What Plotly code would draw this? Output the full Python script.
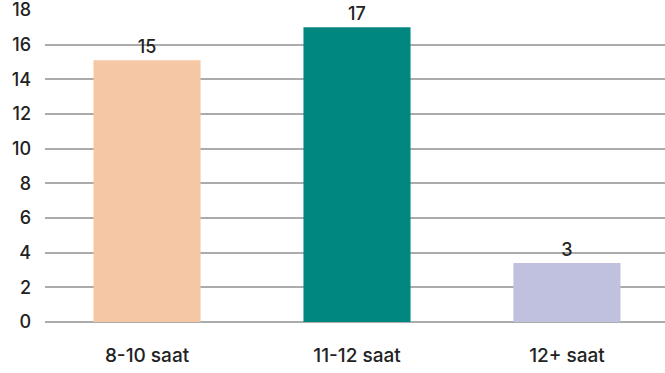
import plotly.graph_objects as go

categories = ["8-10 saat", "11-12 saat", "12+ saat"]
values = [15.1, 17.0, 3.4]
labels = ["15", "17", "3"]
colors = ["#F6C7A4", "#00877F", "#BFC1DF"]
y_ticks = [0, 2, 4, 6, 8, 10, 12, 14, 16, 18]

FONT = "Inter, Lato, sans-serif"

fig = go.Figure(
    go.Bar(
        x=categories,
        y=values,
        text=labels,
        textposition="outside",
        textfont=dict(family=FONT, size=18, color="#222222", weight=500),
        marker=dict(color=colors, line=dict(width=0)),
        width=0.51,
        cliponaxis=False,
    )
)

fig.update_layout(
    width=665,
    height=373,
    margin=dict(l=45, r=0, t=10, b=51, autoexpand=False),
    plot_bgcolor="white",
    paper_bgcolor="white",
    font=dict(family=FONT, size=18, color="#222222"),
    showlegend=False,
    bargap=0.49,
)
fig.update_xaxes(
    range=[-0.486, 2.467],
    showgrid=False,
    showline=False,
    zeroline=False,
    ticks="",
    automargin=False,
    ticklabelstandoff=20,
    tickfont=dict(family=FONT, size=19, color="#222222", weight=500),
)
fig.update_yaxes(
    range=[0, 18],
    tickvals=y_ticks,
    showgrid=True,
    gridcolor="#ABABAB",
    gridwidth=1.5,
    zeroline=True,
    zerolinecolor="#ABABAB",
    zerolinewidth=1.5,
    showline=False,
    ticks="",
    automargin=False,
    ticklabeloverflow="allow",
    ticklabelstandoff=13,
    tickfont=dict(family=FONT, size=18, color="#222222", weight=500),
)

fig.write_html(
    "out.html",
    config={"displayModeBar": False},
    post_script="document.body.style.margin='0';",
)
